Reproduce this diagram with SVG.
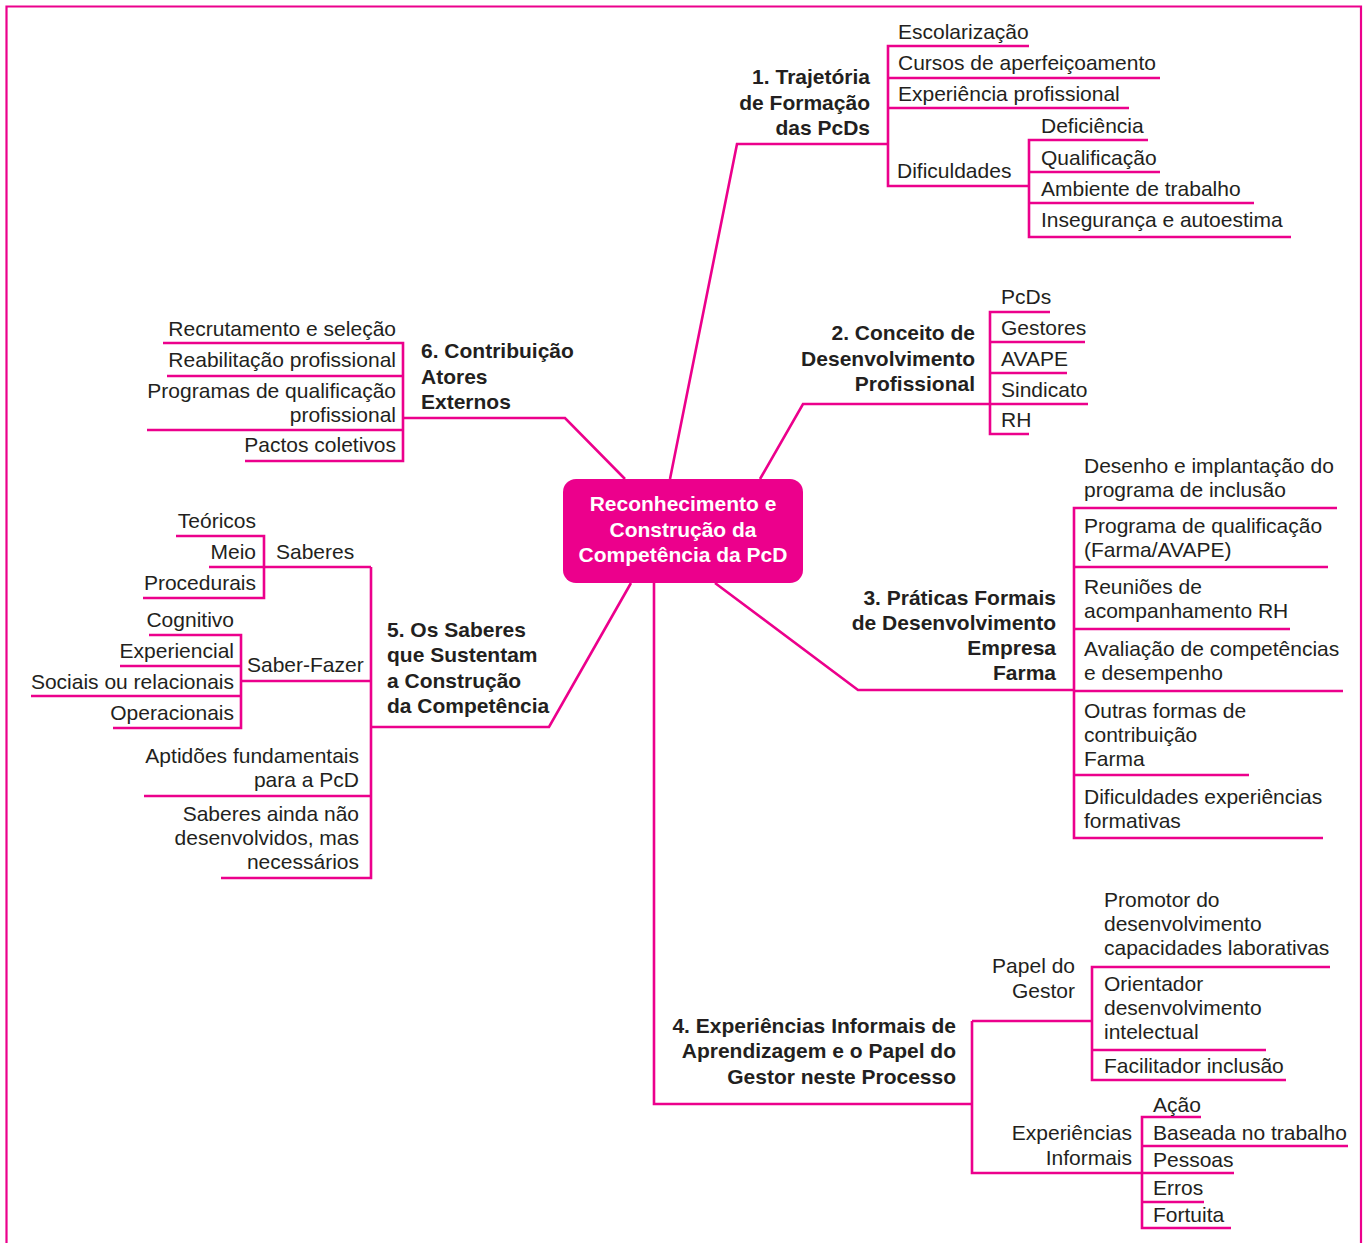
<svg xmlns="http://www.w3.org/2000/svg" width="1367" height="1243" viewBox="0 0 1367 1243">
<style>
.ln{fill:none;stroke:#ec008c;stroke-width:2.6;stroke-linejoin:miter}
.fr{fill:none;stroke:#ec008c;stroke-width:2.2}
text{font-family:"Liberation Sans",Arial,sans-serif;fill:#231f20;font-size:21px}
.b{font-weight:bold;font-size:21px}
.e{text-anchor:end}
.c{fill:#fff;font-weight:bold;font-size:21px;text-anchor:middle}
</style>
<rect width="1367" height="1243" fill="#fff"/>
<path class="fr" d="M6.5,1243V6.5H1361V1243"/>
<g id="connectors">
<path class="ln" d="M670,479L737,144H888"/>
<path class="ln" d="M760,479L803,404H990"/>
<path class="ln" d="M715,583L858,690H1074"/>
<path class="ln" d="M654,583V1104H972"/>
<path class="ln" d="M631,583L549,727H371"/>
<path class="ln" d="M625,479L565,418H403"/>
</g>
<g id="center">
<rect x="563" y="479" width="240" height="104" rx="13" fill="#ec008c"/>
<text class="c" x="683" y="511">Reconhecimento e</text>
<text class="c" x="683" y="537">Construção da</text>
<text class="c" x="683" y="562">Competência da PcD</text>
</g>
<g id="n1">
<text class="b e" x="870" y="84">1. Trajetória</text>
<text class="b e" x="870" y="110">de Formação</text>
<text class="b e" x="870" y="135">das PcDs</text>
<path class="ln" d="M1029,46H888V186H1029M888,78H1160M888,108H1129"/>
<text x="898" y="39">Escolarização</text>
<text x="898" y="70">Cursos de aperfeiçoamento</text>
<text x="898" y="101">Experiência profissional</text>
<text x="897" y="178">Dificuldades</text>
<path class="ln" d="M1148,140H1029V237H1291M1029,172H1160M1029,203H1254"/>
<text x="1041" y="133">Deficiência</text>
<text x="1041" y="165">Qualificação</text>
<text x="1041" y="196">Ambiente de trabalho</text>
<text x="1041" y="227">Insegurança e autoestima</text>
</g>
<g id="n2">
<text class="b e" x="975" y="340">2. Conceito de</text>
<text class="b e" x="975" y="366">Desenvolvimento</text>
<text class="b e" x="975" y="391">Profissional</text>
<path class="ln" d="M1050,312H990V434H1029M990,342H1085M990,373H1067M990,404H1088"/>
<text x="1001" y="304">PcDs</text>
<text x="1001" y="335">Gestores</text>
<text x="1001" y="366">AVAPE</text>
<text x="1001" y="397">Sindicato</text>
<text x="1001" y="427">RH</text>
</g>
<g id="n3">
<text class="b e" x="1056" y="605">3. Práticas Formais</text>
<text class="b e" x="1056" y="630">de Desenvolvimento</text>
<text class="b e" x="1056" y="655">Empresa</text>
<text class="b e" x="1056" y="680">Farma</text>
<path class="ln" d="M1337,508H1074V838H1323M1074,567H1328M1074,629H1290M1074,691H1343M1074,775H1249"/>
<text x="1084" y="473">Desenho e implantação do</text>
<text x="1084" y="497">programa de inclusão</text>
<text x="1084" y="533">Programa de qualificação</text>
<text x="1084" y="557">(Farma/AVAPE)</text>
<text x="1084" y="594">Reuniões de</text>
<text x="1084" y="618">acompanhamento RH</text>
<text x="1084" y="656">Avaliação de competências</text>
<text x="1084" y="680">e desempenho</text>
<text x="1084" y="718">Outras formas de</text>
<text x="1084" y="742">contribuição</text>
<text x="1084" y="766">Farma</text>
<text x="1084" y="804">Dificuldades experiências</text>
<text x="1084" y="828">formativas</text>
</g>
<g id="n4">
<text class="b e" x="956" y="1033">4. Experiências Informais de</text>
<text class="b e" x="956" y="1058">Aprendizagem e o Papel do</text>
<text class="b e" x="956" y="1084">Gestor neste Processo</text>
<path class="ln" d="M972,1021V1173H1142M972,1021H1092"/>
<text class="e" x="1075" y="973">Papel do</text>
<text class="e" x="1075" y="998">Gestor</text>
<path class="ln" d="M1330,967H1092V1080H1286M1092,1050H1266"/>
<text x="1104" y="907">Promotor do</text>
<text x="1104" y="931">desenvolvimento</text>
<text x="1104" y="955">capacidades laborativas</text>
<text x="1104" y="991">Orientador</text>
<text x="1104" y="1015">desenvolvimento</text>
<text x="1104" y="1039">intelectual</text>
<text x="1104" y="1073">Facilitador inclusão</text>
<text class="e" x="1132" y="1140">Experiências</text>
<text class="e" x="1132" y="1165">Informais</text>
<path class="ln" d="M1201,1117H1142V1228H1231M1142,1146H1348M1142,1173H1234M1142,1202H1204"/>
<text x="1153" y="1112">Ação</text>
<text x="1153" y="1140">Baseada no trabalho</text>
<text x="1153" y="1167">Pessoas</text>
<text x="1153" y="1195">Erros</text>
<text x="1153" y="1222">Fortuita</text>
</g>
<g id="n5">
<text class="b" x="387" y="637">5. Os Saberes</text>
<text class="b" x="387" y="662">que Sustentam</text>
<text class="b" x="387" y="688">a Construção</text>
<text class="b" x="387" y="713">da Competência</text>
<path class="ln" d="M371,567V878H221M371,796H144M371,567H209M371,681H241"/>
<text x="276" y="559">Saberes</text>
<path class="ln" d="M176,536H264V598H143"/>
<text class="e" x="256" y="528">Teóricos</text>
<text class="e" x="256" y="559">Meio</text>
<text class="e" x="256" y="590">Procedurais</text>
<text x="247" y="672">Saber-Fazer</text>
<path class="ln" d="M149,635H241V728H113M241,666H120M241,696H31"/>
<text class="e" x="234" y="627">Cognitivo</text>
<text class="e" x="234" y="658">Experiencial</text>
<text class="e" x="234" y="689">Sociais ou relacionais</text>
<text class="e" x="234" y="720">Operacionais</text>
<text class="e" x="359" y="763">Aptidões fundamentais</text>
<text class="e" x="359" y="787">para a PcD</text>
<text class="e" x="359" y="821">Saberes ainda não</text>
<text class="e" x="359" y="845">desenvolvidos, mas</text>
<text class="e" x="359" y="869">necessários</text>
</g>
<g id="n6">
<text class="b" x="421" y="358">6. Contribuição</text>
<text class="b" x="421" y="384">Atores</text>
<text class="b" x="421" y="409">Externos</text>
<path class="ln" d="M163,343H403V461H245M403,376H167M403,430H147"/>
<text class="e" x="396" y="336">Recrutamento e seleção</text>
<text class="e" x="396" y="367">Reabilitação profissional</text>
<text class="e" x="396" y="398">Programas de qualificação</text>
<text class="e" x="396" y="422">profissional</text>
<text class="e" x="396" y="452">Pactos coletivos</text>
</g>
</svg>
